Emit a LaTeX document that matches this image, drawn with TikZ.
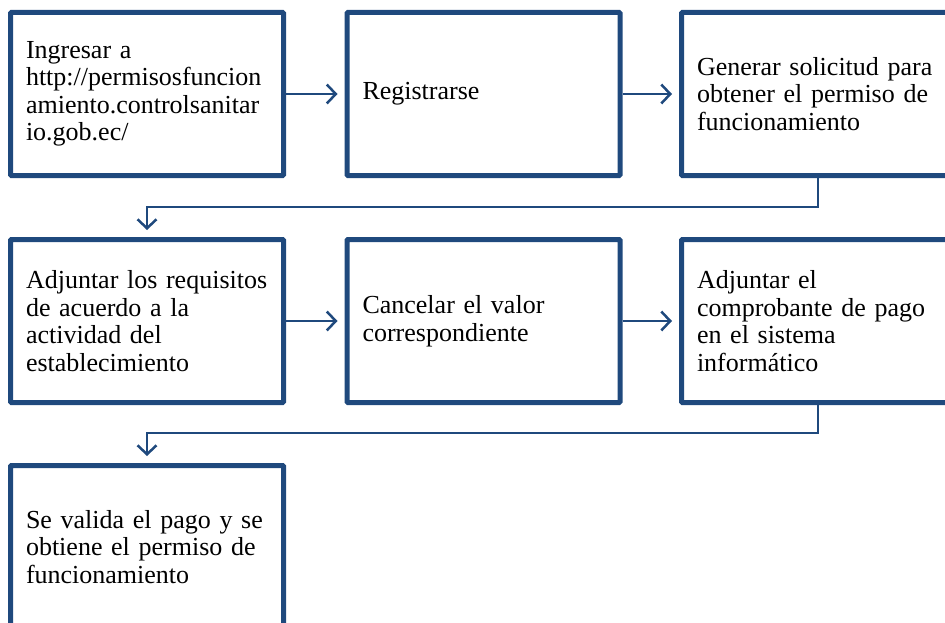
\documentclass[tikz,border=0pt]{standalone}
\usepackage{fontspec}
\setmainfont{Liberation Serif}
\usetikzlibrary{calc,arrows.meta}
\definecolor{flowblue}{RGB}{31,73,125}

\begin{document}
\begin{tikzpicture}[x=1pt,y=-1pt,
    box/.style={draw=flowblue, line width=5pt, rounded corners=1pt,
        minimum width=273pt, minimum height=163pt, text width=242pt,
        inner xsep=15.5pt, align=left, font=\fontsize{26}{27.5}\selectfont},
    link/.style={draw=flowblue, line width=2.5pt,
        -{Straight Barb[length=9pt,width=19pt]}, shorten >=7pt}]
    \clip (0,0) rectangle (945,623);
    \coordinate (P1) at (147,94);
    \coordinate (P2) at (483.5,94);
    \coordinate (P3) at (818,94);
    \coordinate (P4) at (147,321);
    \coordinate (P5) at (483.5,321);
    \coordinate (P6) at (818,321);
    \coordinate (P7) at (147,547);

    \node[box] (A) at (P1) {Ingresar a\\http://permisosfuncion\\amiento.controlsanitar\\io.gob.ec/};
    \node[box] (B) at (P2) {Registrarse};
    \node[box] (C) at (P3) {Generar solicitud para\\obtener el permiso de\\funcionamiento};
    \node[box] (D) at (P4) {Adjuntar los requisitos\\de acuerdo a la\\actividad del\\establecimiento};
    \node[box] (E) at (P5) {Cancelar el valor\\correspondiente};
    \node[box] (F) at (P6) {Adjuntar el\\comprobante de pago\\en el sistema\\informático};
    \node[box] (G) at (P7) {Se valida el pago y se\\obtiene el permiso de\\funcionamiento};

    \draw[link] (A) -- (B);
    \draw[link] (B) -- (C);
    \draw[link] (C.south) -- ++(0,29) -| (D.north);
    \draw[link] (D) -- (E);
    \draw[link] (E) -- (F);
    \draw[link] (F.south) -- ++(0,28) -| (G.north);
\end{tikzpicture}
\end{document}
